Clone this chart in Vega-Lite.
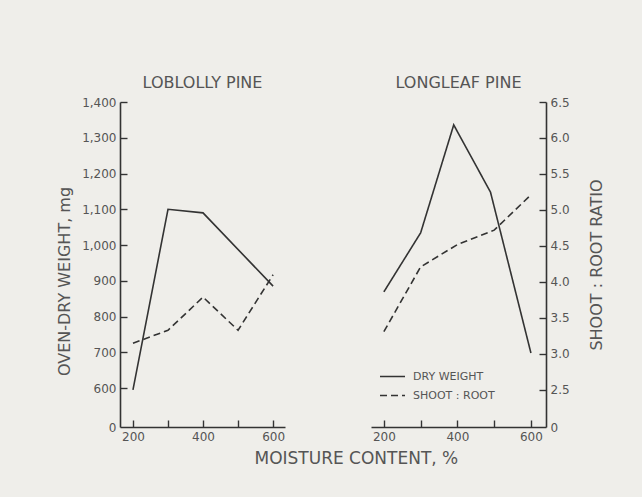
{
  "$schema": "https://vega.github.io/schema/vega-lite/v6.json",
  "background": "#efeeea",
  "padding": {"left": 56, "top": 75, "right": 40, "bottom": 32},
  "title": {"text": "MOISTURE CONTENT, %", "orient": "bottom", "anchor": "middle", "fontSize": 17, "font": "DejaVu Sans", "fontWeight": "normal", "color": "#555555", "offset": 9, "dx": 26},
  "datasets": {
    "loblolly": [
      {"measure": "DRY WEIGHT", "moisture": 200, "value": 595},
      {"measure": "DRY WEIGHT", "moisture": 300, "value": 1100},
      {"measure": "DRY WEIGHT", "moisture": 400, "value": 1090},
      {"measure": "DRY WEIGHT", "moisture": 600, "value": 885},
      {"measure": "SHOOT : ROOT", "moisture": 200, "value": 3.15},
      {"measure": "SHOOT : ROOT", "moisture": 300, "value": 3.33},
      {"measure": "SHOOT : ROOT", "moisture": 400, "value": 3.79},
      {"measure": "SHOOT : ROOT", "moisture": 500, "value": 3.33},
      {"measure": "SHOOT : ROOT", "moisture": 600, "value": 4.1}
    ],
    "longleaf": [
      {"measure": "DRY WEIGHT", "moisture": 200, "value": 869},
      {"measure": "DRY WEIGHT", "moisture": 300, "value": 1034},
      {"measure": "DRY WEIGHT", "moisture": 390, "value": 1336},
      {"measure": "DRY WEIGHT", "moisture": 490, "value": 1148},
      {"measure": "DRY WEIGHT", "moisture": 600, "value": 698},
      {"measure": "SHOOT : ROOT", "moisture": 200, "value": 3.31},
      {"measure": "SHOOT : ROOT", "moisture": 300, "value": 4.21},
      {"measure": "SHOOT : ROOT", "moisture": 400, "value": 4.52},
      {"measure": "SHOOT : ROOT", "moisture": 500, "value": 4.72},
      {"measure": "SHOOT : ROOT", "moisture": 600, "value": 5.21}
    ]
  },
  "spacing": 86,
  "hconcat": [
    {
      "width": 165,
      "height": 325,
      "data": {"name": "loblolly"},
      "title": {"text": "LOBLOLLY PINE", "fontSize": 16, "fontWeight": "normal", "color": "#555555", "offset": 5},
      "layer": [
        {
          "transform": [{"filter": "datum.measure === 'DRY WEIGHT'"}],
          "mark": {"type": "line", "color": "#333333", "strokeWidth": 1.6},
          "encoding": {
            "x": {"field": "moisture", "type": "quantitative", "scale": {"domain": [163, 634], "nice": false, "zero": false},
                  "axis": {"title": null, "values": [200, 300, 400, 500, 600], "labelExpr": "datum.value % 200 === 0 ? datum.label : ''"}},
            "y": {"field": "value", "type": "quantitative", "scale": {"domain": [491, 1400], "nice": false, "zero": false},
                  "axis": {"title": "OVEN-DRY WEIGHT, mg", "orient": "left", "values": [491, 600, 700, 800, 900, 1000, 1100, 1200, 1300, 1400],
                           "labelExpr": "datum.value < 550 ? '0' : format(datum.value, ',')",
                           "tickOpacity": {"condition": {"test": "datum.value < 550", "value": 0}, "value": 1},
                           "titleY": 179, "titlePadding": 9}}
          }
        },
        {
          "transform": [{"filter": "datum.measure === 'SHOOT : ROOT'"}],
          "mark": {"type": "line", "color": "#333333", "strokeWidth": 1.6, "strokeDash": [7, 4]},
          "encoding": {
            "x": {"field": "moisture", "type": "quantitative"},
            "y": {"field": "value", "type": "quantitative", "scale": {"domain": [1.986, 6.5], "nice": false, "zero": false}, "axis": null}
          }
        }
      ],
      "resolve": {"scale": {"y": "independent"}}
    },
    {
      "width": 175,
      "height": 325,
      "data": {"name": "longleaf"},
      "title": {"text": "LONGLEAF PINE", "fontSize": 16, "fontWeight": "normal", "color": "#555555", "offset": 5},
      "layer": [
        {
          "transform": [{"filter": "datum.measure === 'DRY WEIGHT'"}],
          "mark": {"type": "line", "color": "#333333", "strokeWidth": 1.6},
          "encoding": {
            "x": {"field": "moisture", "type": "quantitative", "scale": {"domain": [165, 641], "nice": false, "zero": false},
                  "axis": {"title": null, "values": [200, 300, 400, 500, 600], "labelExpr": "datum.value % 200 === 0 ? datum.label : ''"}},
            "y": {"field": "value", "type": "quantitative", "scale": {"domain": [491, 1400], "nice": false, "zero": false}, "axis": null},
            "strokeDash": {"field": "measure", "type": "nominal",
                           "scale": {"domain": ["DRY WEIGHT", "SHOOT : ROOT"], "range": [[1, 0], [7, 4]]},
                           "legend": {"title": null, "orient": "none", "legendX": 8, "legendY": 261, "symbolType": "stroke", "symbolStrokeWidth": 1.5,
                                      "symbolSize": 625, "symbolStrokeColor": "#333333", "labelFontSize": 11, "labelColor": "#555555", "labelFont": "DejaVu Sans",
                                      "labelOffset": 7, "rowPadding": -3}}
          }
        },
        {
          "transform": [{"filter": "datum.measure === 'SHOOT : ROOT'"}],
          "mark": {"type": "line", "color": "#333333", "strokeWidth": 1.6},
          "encoding": {
            "x": {"field": "moisture", "type": "quantitative"},
            "y": {"field": "value", "type": "quantitative", "scale": {"domain": [1.986, 6.5], "nice": false, "zero": false},
                  "axis": {"title": "SHOOT : ROOT RATIO", "orient": "right", "values": [1.986, 2.5, 3, 3.5, 4, 4.5, 5, 5.5, 6, 6.5],
                           "labelExpr": "datum.value < 2.2 ? '0' : format(datum.value, '.1f')",
                           "tickOpacity": {"condition": {"test": "datum.value < 2.2", "value": 0}, "value": 1},
                           "titleAngle": -90, "titlePadding": 35}},
            "strokeDash": {"field": "measure", "type": "nominal"}
          }
        }
      ],
      "resolve": {"scale": {"y": "independent"}}
    }
  ],
  "resolve": {"legend": {"strokeDash": "independent"}},
  "config": {
    "font": "DejaVu Sans",
    "view": {"stroke": null},
    "axis": {
      "grid": false,
      "labelFont": "DejaVu Sans", "labelFontSize": 12, "labelColor": "#555555",
      "titleFont": "DejaVu Sans", "titleFontSize": 16, "titleFontWeight": "normal", "titleColor": "#555555",
      "domainColor": "#333333", "domainWidth": 1.6,
      "tickColor": "#333333", "tickWidth": 1.4, "tickSize": -7, "labelPadding": 11
    },
    "title": {"font": "DejaVu Sans"}
  }
}
